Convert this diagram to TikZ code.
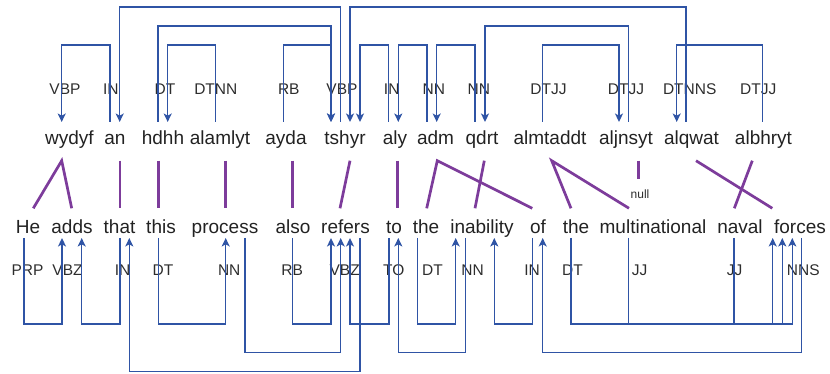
\documentclass[tikz,border=0pt]{standalone}
\usepackage{fontspec}
\setmainfont{Liberation Sans}
\usetikzlibrary{arrows.meta,calc}
\definecolor{depblue}{RGB}{47,84,165}
\definecolor{alignpurple}{RGB}{125,60,155}
\definecolor{wordgray}{RGB}{34,34,34}
\definecolor{taggray}{RGB}{45,45,45}
\begin{document}
\begin{tikzpicture}[x=1pt,y=-1pt,
  word/.style={anchor=base,inner sep=0pt,text=wordgray,font=\fontsize{19}{22}\selectfont},
  tag/.style={anchor=base,inner sep=0pt,text=taggray,font=\fontsize{15.5}{18}\selectfont},
  nulltag/.style={anchor=base,inner sep=0pt,text=taggray,font=\fontsize{12}{14}\selectfont},
  dep/.style={draw=depblue,line width=1.4pt,-{Stealth[length=8.5pt,width=8pt,inset=2.2pt]}},
  link/.style={draw=alignpurple,line width=2.7pt}]
\useasboundingbox (0,0) rectangle (830,374);

% top words
\node[word] (wydyf) at (69.5,145) {wydyf};
\node[word] (an) at (115,145) {an};
\node[word] (hdhh) at (163,145) {hdhh};
\node[word] (alamlyt) at (220,145) {alamlyt};
\node[word] (ayda) at (286,145) {ayda};
\node[word] (tshyr) at (345,145) {tshyr};
\node[word] (aly) at (395,145) {aly};
\node[word] (adm) at (435.5,145) {adm};
\node[word] (qdrt) at (482,145) {qdrt};
\node[word] (almtaddt) at (550,145) {almtaddt};
\node[word] (aljnsyt) at (626,145) {aljnsyt};
\node[word] (alqwat) at (691.5,145) {alqwat};
\node[word] (albhryt) at (763.5,145) {albhryt};

% top tags
\node[tag] (t1) at (65,94.3) {VBP};
\node[tag] (t2) at (110.8,94.3) {IN};
\node[tag] (t3) at (165,94.3) {DT};
\node[tag] (t4) at (215.8,94.3) {DTNN};
\node[tag] (t5) at (288.8,94.3) {RB};
\node[tag] (t6) at (342,94.3) {VBP};
\node[tag] (t7) at (391.7,94.3) {IN};
\node[tag] (t8) at (433.8,94.3) {NN};
\node[tag] (t9) at (478.8,94.3) {NN};
\node[tag] (t10) at (548.5,94.3) {DTJJ};
\node[tag] (t11) at (626,94.3) {DTJJ};
\node[tag] (t12) at (689.7,94.3) {DTNNS};
\node[tag] (t13) at (758.3,94.3) {DTJJ};

% bottom words
\node[word] (he) at (28,233.3) {He};
\node[word] (adds) at (72,233.3) {adds};
\node[word] (that) at (119.5,233.3) {that};
\node[word] (this) at (161,233.3) {this};
\node[word] (process) at (225,233.3) {process};
\node[word] (also) at (293,233.3) {also};
\node[word] (refers) at (345.5,233.3) {refers};
\node[word] (to) at (394,233.3) {to};
\node[word] (the) at (426,233.3) {the};
\node[word] (inability) at (482,233.3) {inability};
\node[word] (of) at (538,233.3) {of};
\node[word] (theb) at (576,233.3) {the};
\node[word] (multinational) at (653,233.3) {multinational};
\node[word] (naval) at (740,233.3) {naval};
\node[word] (forces) at (800,233.3) {forces};

% bottom tags
\node[tag] (b1) at (27.5,276) {PRP};
\node[tag] (b2) at (67.5,276) {VBZ};
\node[tag] (b3) at (122.5,276) {IN};
\node[tag] (b4) at (163,276) {DT};
\node[tag] (b5) at (229.2,276) {NN};
\node[tag] (b6) at (292.2,276) {RB};
\node[tag] (b7) at (344.7,276) {VBZ};
\node[tag] (b8) at (393.8,276) {TO};
\node[tag] (b9) at (432.5,276) {DT};
\node[tag] (b10) at (472.5,276) {NN};
\node[tag] (b11) at (532,276) {IN};
\node[tag] (b12) at (572.5,276) {DT};
\node[tag] (b13) at (639.5,276) {JJ};
\node[tag] (b14) at (734.5,276) {JJ};
\node[tag] (b15) at (803.3,276) {NNS};

\node[nulltag] (null) at (640,198.3) {null};

% top dependencies
\draw[dep] ([shift={(-4.3,-23)}]tshyr.base) -- ++(0,-115) -| ([shift={(4.7,-23)}]an.base);
\draw[dep] ([shift={(-5.5,-23)}]alqwat.base) -- ++(0,-115) -| ([shift={(5,-23)}]tshyr.base);
\draw[dep] ([shift={(-5,-23)}]hdhh.base) -- ++(0,-96) -| ([shift={(-14,-23)}]tshyr.base);
\draw[dep] ([shift={(-2.7,-23)}]ayda.base) -- ++(0,-77) -| ([shift={(-14,-23)}]tshyr.base);
\draw[dep] ([shift={(-6.3,-23)}]aly.base) -- ++(0,-77) -| ([shift={(15,-23)}]tshyr.base);
\draw[dep] ([shift={(-8.5,-23)}]adm.base) -- ++(0,-77) -| ([shift={(3.3,-23)}]aly.base);
\draw[dep] ([shift={(-7,-23)}]qdrt.base) -- ++(0,-77) -| ([shift={(1.2,-23)}]adm.base);
\draw[dep] ([shift={(2.3,-23)}]aljnsyt.base) -- ++(0,-96) -| ([shift={(3,-23)}]qdrt.base);
\draw[dep] ([shift={(-7.3,-23)}]almtaddt.base) -- ++(0,-77) -| ([shift={(-7,-23)}]aljnsyt.base);
\draw[dep] ([shift={(-0.8,-23)}]albhryt.base) -- ++(0,-77) -| ([shift={(-14.8,-23)}]alqwat.base);
\draw[dep] ([shift={(-5,-23)}]an.base) -- ++(0,-77) -| ([shift={(-7.8,-23)}]wydyf.base);
\draw[dep] ([shift={(-4.3,-23)}]alamlyt.base) -- ++(0,-77) -| ([shift={(4.7,-23)}]hdhh.base);

% bottom dependencies
\draw[dep] ([shift={(-4,4.7)}]he.base) -- ++(0,86) -| ([shift={(-10,4.7)}]adds.base);
\draw[dep] ([shift={(0.5,4.7)}]that.base) -- ++(0,86) -| ([shift={(9.7,4.7)}]adds.base);
\draw[dep] ([shift={(-2.7,4.7)}]this.base) -- ++(0,86) -| ([shift={(0.7,4.7)}]process.base);
\draw[dep] ([shift={(20,4.7)}]process.base) -- ++(0,114.7) -| ([shift={(-4.8,4.7)}]refers.base);
\draw[dep] ([shift={(14.5,4.7)}]refers.base) -- ++(0,133.7) -| ([shift={(9.8,4.7)}]that.base);
\draw[dep] ([shift={(-0.3,4.7)}]also.base) -- ++(0,86) -| ([shift={(-14.5,4.7)}]refers.base);
\draw[dep] ([shift={(-5,4.7)}]to.base) -- ++(0,86) -| ([shift={(4.5,4.7)}]refers.base);
\draw[dep] ([shift={(-16.3,4.7)}]inability.base) -- ++(0,114.7) -| ([shift={(4.3,4.7)}]to.base);
\draw[dep] ([shift={(-8.3,4.7)}]the.base) -- ++(0,86) -| ([shift={(-26.3,4.7)}]inability.base);
\draw[dep] ([shift={(-5.3,4.7)}]of.base) -- ++(0,86) -| ([shift={(12.3,4.7)}]inability.base);
\draw[dep] ([shift={(1.7,4.7)}]forces.base) -- ++(0,114.7) -| ([shift={(4.7,4.7)}]of.base);
\draw[dep] ([shift={(-5,4.7)}]theb.base) -- ++(0,86) -| ([shift={(-7.7,4.7)}]forces.base);
\draw[dep] ([shift={(-24.7,4.7)}]multinational.base) -- ++(0,86) -| ([shift={(-17.7,4.7)}]forces.base);
\draw[dep] ([shift={(-6,4.7)}]naval.base) -- ++(0,86) -| ([shift={(-27.3,4.7)}]forces.base);

% alignment links
\draw[link] ([shift={(5.3,-25)}]he.base) -- ([shift={(-7.8,15.7)}]wydyf.base) -- ([shift={(-0.3,-25)}]adds.base);
\draw[link] ([shift={(5,15.7)}]an.base) -- ([shift={(0.5,-25)}]that.base);
\draw[link] ([shift={(-4.7,15.7)}]hdhh.base) -- ([shift={(-2.7,-25)}]this.base);
\draw[link] ([shift={(5.7,15.7)}]alamlyt.base) -- ([shift={(0.7,-25)}]process.base);
\draw[link] ([shift={(6.3,15.7)}]ayda.base) -- ([shift={(-0.7,-25)}]also.base);
\draw[link] ([shift={(5,15.7)}]tshyr.base) -- ([shift={(-5.5,-25)}]refers.base);
\draw[link] ([shift={(2.7,15.7)}]aly.base) -- ([shift={(3.7,-25)}]to.base);
\draw[link] ([shift={(0.7,-25)}]the.base) -- ([shift={(1.8,15.7)}]adm.base) -- ([shift={(-5.7,-25)}]of.base);
\draw[link] ([shift={(2.3,15.7)}]qdrt.base) -- ([shift={(-7,-25)}]inability.base);
\draw[link] ([shift={(-5,-25)}]theb.base) -- ([shift={(1.7,15.7)}]almtaddt.base) -- ([shift={(-24,-25)}]multinational.base);
\draw[link] ([shift={(12.3,15.7)}]aljnsyt.base) -- ([shift={(-1.7,-19)}]null.base);
\draw[link] ([shift={(4.5,15.7)}]alqwat.base) -- ([shift={(-27.7,-25)}]forces.base);
\draw[link] ([shift={(-11.2,15.7)}]albhryt.base) -- ([shift={(-5.7,-25)}]naval.base);
\end{tikzpicture}
\end{document}
